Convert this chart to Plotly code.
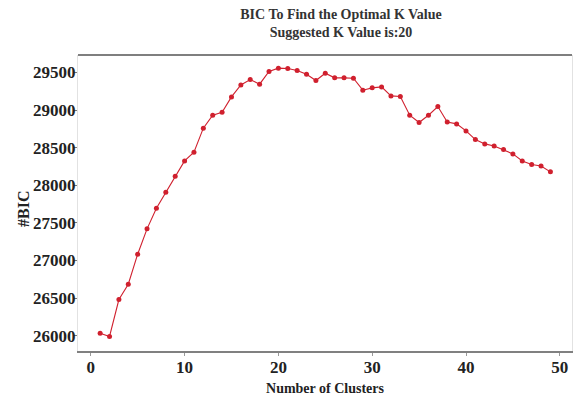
import plotly.graph_objects as go

k_values = list(range(1, 50))
bic_values = [
    26034, 25990, 26482, 26685, 27084, 27421, 27696, 27909, 28121, 28325,
    28441, 28760, 28932, 28972, 29176, 29335, 29407, 29345, 29514, 29558,
    29554, 29527, 29478, 29394, 29491, 29429, 29429, 29424, 29265, 29296,
    29309, 29189, 29181, 28932, 28835, 28932, 29048, 28841, 28817, 28724,
    28609, 28551, 28524, 28476, 28418, 28325, 28277, 28258, 28179,
]
x_ticks = [0, 10, 20, 30, 40, 50]
y_ticks = [26000, 26500, 27000, 27500, 28000, 28500, 29000, 29500]

red = "#D0202E"
font_family = "Liberation Serif"

W, H = 574, 396
L, R, T, B = 78, 2, 55, 45

fig = go.Figure()
fig.add_trace(go.Scatter(
    x=k_values, y=bic_values, mode="lines+markers",
    line=dict(color=red, width=1.1),
    marker=dict(color=red, size=5),
    showlegend=False,
))

fig.update_layout(
    width=W, height=H,
    margin=dict(l=L, r=R, t=T, b=B),
    paper_bgcolor="white", plot_bgcolor="white",
    font=dict(family=font_family, color="#222222"),
    title=dict(
        text="<b>BIC To Find the Optimal K Value</b><br><b>Suggested K Value is:20</b>",
        x=341 / W, xref="container", xanchor="center",
        y=1 - 19 / H, yref="container", yanchor="top",
        font=dict(family=font_family, size=14, color="#333333"),
    ),
    xaxis=dict(
        range=[-1.36, 51.3], tickvals=x_ticks, tickformat="d",
        showgrid=False, zeroline=False, automargin=False,
        showline=True, linecolor="#808080", linewidth=1.5,
        ticks="outside", ticklen=3, tickcolor="#999999",
        ticklabelstandoff=-3,
        tickfont=dict(family=font_family, size=17, color="#222222", weight="bold"),
        title=dict(text="<b>Number of Clusters</b>", standoff=13,
                   font=dict(family=font_family, size=14, color="#222222")),
    ),
    yaxis=dict(
        range=[25797, 29733], tickvals=y_ticks, tickformat="d",
        showgrid=False, zeroline=False, automargin=False,
        showline=True, linecolor="#e2e2e2", linewidth=1, mirror=True,
        ticks="outside", ticklen=3, tickcolor="#777777",
        ticklabelstandoff=-5,
        tickfont=dict(family=font_family, size=17, color="#222222", weight="bold"),
    ),
    annotations=[dict(
        text="<b>#BIC</b>", textangle=-90, showarrow=False,
        xref="paper", yref="paper", x=(23 - L) / (W - L - R), y=1 - (209 - T) / (H - T - B),
        xanchor="center", yanchor="middle",
        font=dict(family=font_family, size=16, color="#222222"),
    )],
    shapes=[dict(type="line", xref="paper", yref="paper", x0=0, x1=1, y0=1, y1=1,
                 line=dict(color="#555555", width=1.5))],
)

fig.write_html("out.html", config={"displayModeBar": False},
               post_script="document.body.style.margin='0';")
